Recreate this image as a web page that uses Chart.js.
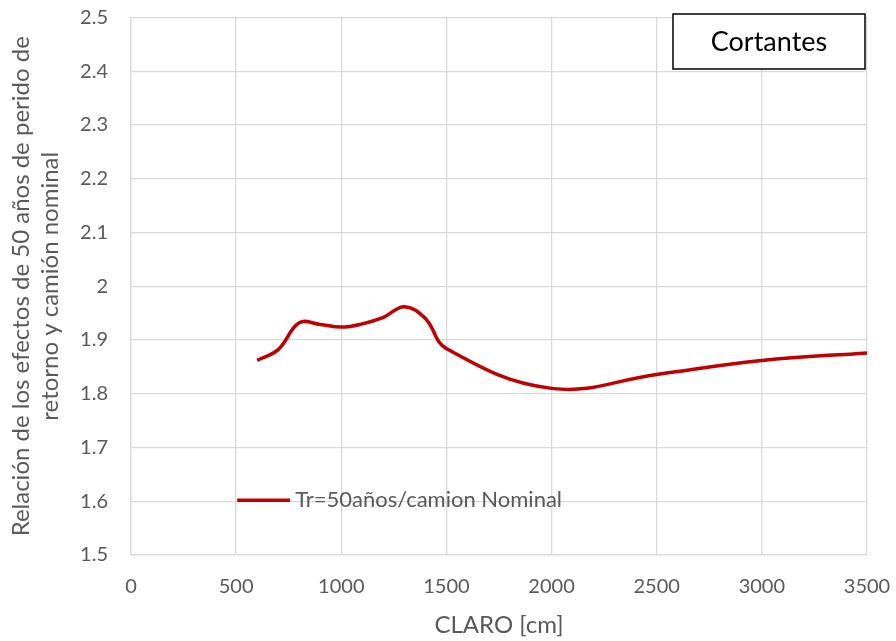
<!DOCTYPE html>
<html>
<head>
<meta charset="utf-8">
<script src="https://cdn.jsdelivr.net/npm/chart.js@4/dist/chart.umd.min.js"></script>
<style>
  html, body { margin: 0; padding: 0; background: #fff; }
  #chart { display: block; }
</style>
</head>
<body>
<canvas id="chart" width="896" height="641"></canvas>
<script>
// claro [cm] vs relacion of effects
const claro = [600, 700, 800, 900, 1000, 1100, 1200, 1300, 1400, 1500, 2000, 2500, 3000, 3500];
const relacion = [1.862, 1.882, 1.932, 1.929, 1.924, 1.930, 1.942, 1.962, 1.940, 1.884, 1.810, 1.836, 1.862, 1.876];
const serieLabel = "Tr=50años/camion Nominal";
const cuadroTexto = "Cortantes";
const tituloX = "CLARO [cm]";
const tituloY = ["Relación de los efectos de 50 años de perido de", "retorno y camión nominal"];

const gris = "#595959";
const rojo = "#c00000";
const fuente = "Lato";

const puntos = claro.map((c, i) => ({ x: c, y: relacion[i] }));

// legend inside plot + "Cortantes" box
const extras = {
  id: "extras",
  afterDraw(chart) {
    const ctx = chart.ctx;
    const xs = chart.scales.x, ys = chart.scales.y;
    ctx.save();
    // legend
    const ly = ys.getPixelForValue(1.6) - 1;
    const lx = xs.getPixelForValue(500) + 1;
    ctx.strokeStyle = rojo;
    ctx.lineWidth = 3.5;
    ctx.beginPath();
    ctx.moveTo(lx, ly);
    ctx.lineTo(lx + 53, ly);
    ctx.stroke();
    ctx.fillStyle = gris;
    ctx.font = "22px " + fuente;
    ctx.textBaseline = "middle";
    ctx.textAlign = "left";
    ctx.fillText(serieLabel, lx + 58, ly);

    // box
    const bx = 673, by = 14, bw = 192, bh = 55;
    ctx.fillStyle = "#fff";
    ctx.fillRect(bx, by, bw, bh);
    ctx.strokeStyle = "#000";
    ctx.lineWidth = 1.5;
    ctx.strokeRect(bx, by, bw, bh);
    ctx.fillStyle = "#000";
    ctx.font = "27px " + fuente;
    ctx.textAlign = "center";
    ctx.fillText(cuadroTexto, bx + bw / 2, by + bh / 2 + 1);
    ctx.restore();
  }
};

new Chart(document.getElementById("chart"), {
  type: "line",
  data: {
    datasets: [
      {
        label: serieLabel,
        data: puntos,
        borderColor: rojo,
        borderWidth: 3.5,
        pointRadius: 0,
        tension: 0.4,
        fill: false,
      },
    ],
  },
  options: {
    responsive: false,
    animation: false,
    layout: { padding: { top: 17.5, right: 29, left: 0, bottom: 0 } },
    plugins: {
      legend: { display: false },
      tooltip: { enabled: false },
    },
    scales: {
      x: {
        type: "linear",
        min: 0,
        max: 3500,
        afterFit: (s) => { s.height = 86; s.paddingLeft = 0; s.paddingRight = 0; },
        ticks: {
          stepSize: 500,
          color: gris,
          font: { family: fuente, size: 20 },
          padding: 20,
          maxRotation: 0,
          callback: (v) => v.toString(),
        },
        grid: { color: "#d9d9d9", lineWidth: 1.3, drawTicks: false },
        border: { color: "#d9d9d9", width: 1.3 },
        title: { display: true, text: tituloX, color: gris, font: { family: fuente, size: 24 }, padding: { top: 0, bottom: 1 } },
      },
      y: {
        min: 1.5,
        max: 2.5,
        afterFit: (s) => { s.width = 131; s.paddingTop = 0; s.paddingBottom = 0; },
        ticks: {
          stepSize: 0.1,
          color: gris,
          font: { family: fuente, size: 20 },
          padding: 23,
          callback: (v) => (Math.round(v * 10) / 10).toString(),
        },
        grid: { color: "#d9d9d9", lineWidth: 1.3, drawTicks: false },
        border: { color: "#d9d9d9", width: 1.3 },
        title: { display: true, text: tituloY, color: gris, font: { family: fuente, size: 24, lineHeight: 1.2 }, padding: { top: 6.6, bottom: 0 } },
      },
    },
  },
  plugins: [extras],
});
</script>
</body>
</html>
